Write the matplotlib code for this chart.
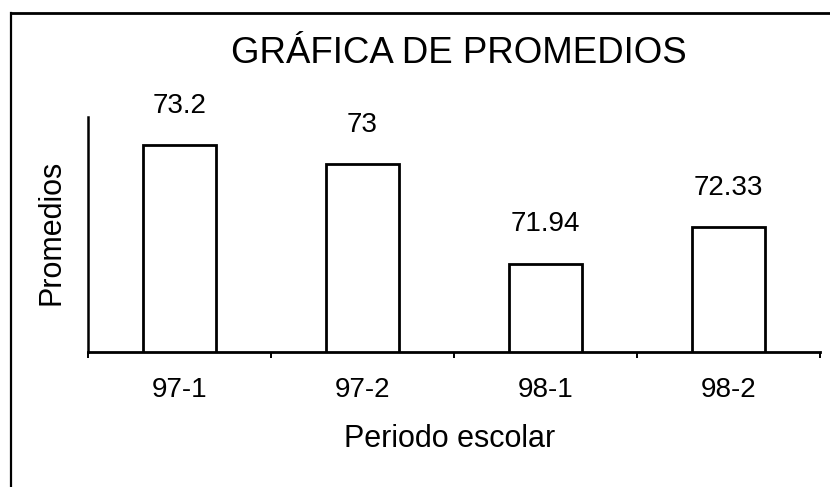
import matplotlib
matplotlib.use('Agg')
import matplotlib.pyplot as plt
from matplotlib.lines import Line2D

plt.rcParams['font.family'] = ['Liberation Sans', 'DejaVu Sans']

# data
periodos = ['97-1', '97-2', '98-1', '98-2']
promedios = [73.2, 73.0, 71.94, 72.33]
etiquetas = ['73.2', '73', '71.94', '72.33']

fig = plt.figure(figsize=(8.3, 4.87), dpi=100)
ax = fig.add_axes([0.106, 0.2772, 0.882, 0.4826])

x = range(len(periodos))
bars = ax.bar(x, promedios, width=0.4, color='white', edgecolor='black', linewidth=2)
ax.bar_label(bars, labels=etiquetas, padding=19, fontsize=20)

ax.set_xlim(-0.5, len(periodos) - 0.5)
ax.set_ylim(71, 73.5)

# only left and bottom axis lines, no y ticks
ax.spines['top'].set_visible(False)
ax.spines['right'].set_visible(False)
ax.spines['left'].set_linewidth(1.8)
ax.spines['bottom'].set_linewidth(2)
ax.set_yticks([])

ax.set_xticks(list(x))
ax.set_xticklabels(periodos, fontsize=20)
ax.tick_params(axis='x', which='major', length=0, pad=18)
ax.set_xticks([i - 0.5 for i in range(len(periodos) + 1)], minor=True)
ax.tick_params(axis='x', which='minor', length=4, width=1.4, direction='out')

# titles placed where the original has them
fig.text(459 / 830, 1 - 63 / 487, 'GRÁFICA DE PROMEDIOS', fontsize=26.4,
         ha='center', va='baseline')
fig.text(450 / 830, 1 - 447 / 487, 'Periodo escolar', fontsize=22,
         ha='center', va='baseline')
fig.text(51.5 / 830, 1 - 232 / 487, 'Promedios', fontsize=22,
         rotation=90, ha='center', va='center')

# frame of the scanned page (left and top edges)
fig.add_artist(Line2D([10.5 / 830, 10.5 / 830], [0, 1 - 13 / 487],
                      transform=fig.transFigure, color='black', linewidth=1.6))
fig.add_artist(Line2D([10.5 / 830, 1], [1 - 13 / 487, 1 - 13 / 487],
                      transform=fig.transFigure, color='black', linewidth=2))

fig.savefig('out.png', dpi=100)
plt.close(fig)
